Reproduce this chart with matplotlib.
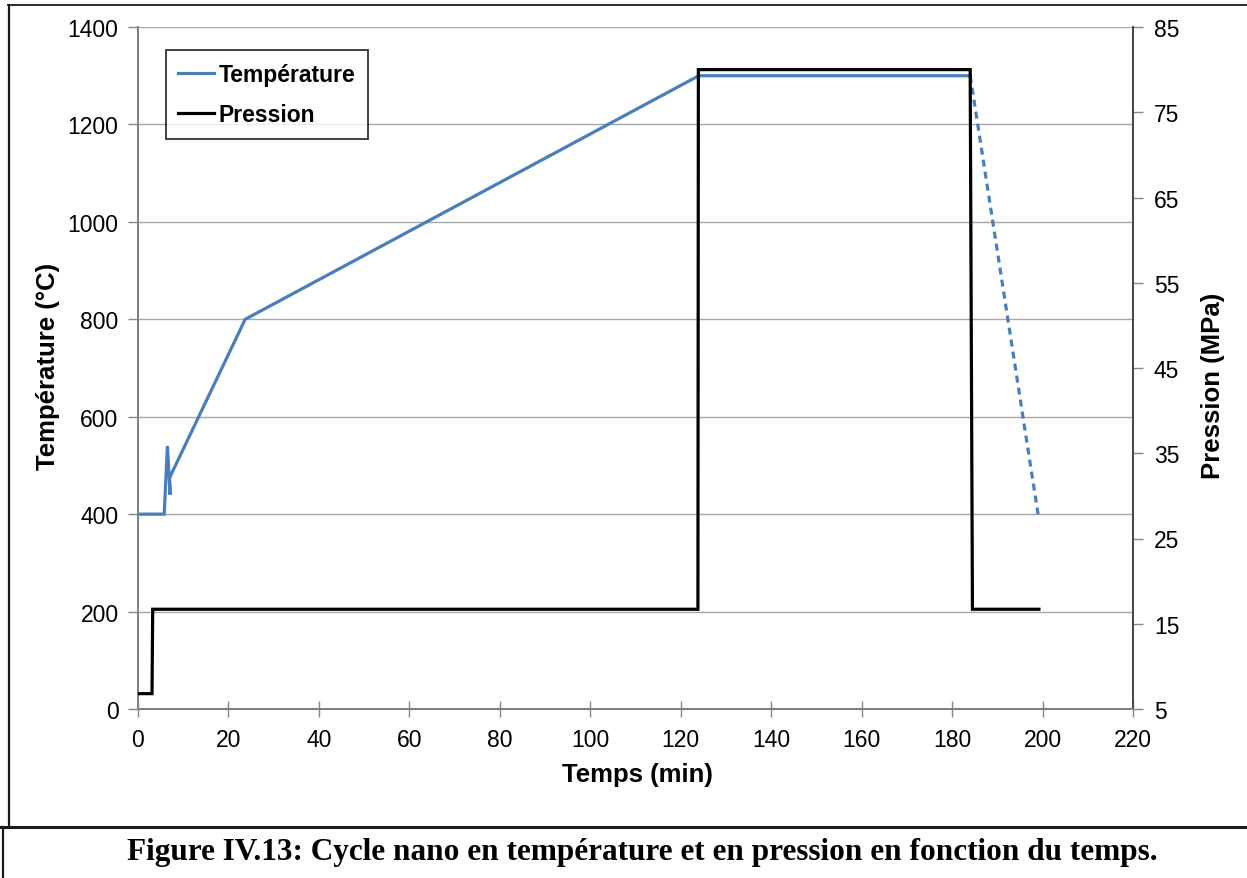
import matplotlib
matplotlib.use("Agg")
import matplotlib.pyplot as plt
from matplotlib.lines import Line2D

plt.rcParams['font.family'] = ['Liberation Sans', 'DejaVu Sans']

# Temperature cycle (°C) vs time (min)
temp_time = [0, 5.8, 6.5, 7.1, 7.0, 23.7, 124, 184]
temp_vals = [400, 400, 540, 440, 475, 800, 1300, 1300]
# Cooling segment (shown dashed)
cool_time = [184, 199]
cool_vals = [1300, 400]

# Pressure cycle (MPa) vs time (min)
pres_time = [0, 3.1, 3.25, 123.8, 123.9, 184.0, 184.5, 199.2]
pres_vals = [6.8, 6.8, 16.7, 16.7, 80, 80, 16.7, 16.7]

x_ticks = list(range(0, 221, 20))
temp_ticks = list(range(0, 1401, 200))
pres_ticks = list(range(5, 86, 10))

W, H = 1247, 879
fig = plt.figure(figsize=(W / 100, H / 100), dpi=100)

ax = fig.add_axes([138 / W, 1 - 710 / H, 995 / W, 682 / H])
ax2 = ax.twinx()

blue = '#4A7EBB'
grid_c = '#A6A6A6'
spine_c = '#868686'

ax.plot(temp_time, temp_vals, color=blue, lw=2.3, solid_joinstyle='miter', zorder=3)
ax.plot(cool_time, cool_vals, color=blue, lw=2.3, ls=(0, (2.2, 1.6)), zorder=3)
ax2.plot(pres_time, pres_vals, color='black', lw=2.3, solid_joinstyle='miter', zorder=3)

ax.set_xlim(0, 220)
ax.set_ylim(0, 1400)
ax2.set_ylim(5, 85)
ax.set_xticks(x_ticks)
ax.set_yticks(temp_ticks)
ax2.set_yticks(pres_ticks)

ax.yaxis.grid(True, color=grid_c, lw=1.0)
ax.set_axisbelow(True)

for a in (ax, ax2):
    for s in a.spines.values():
        s.set_color(spine_c)
        s.set_linewidth(1.3)
    a.spines['top'].set_visible(False)
ax.spines['left'].set_color('#404040')
ax.spines['bottom'].set_color('#404040')
ax2.spines['right'].set_color('#404040')

ax.tick_params(axis='y', direction='out', length=7, width=1.0, color=spine_c,
               labelsize=16.5, pad=7)
ax.tick_params(axis='x', direction='inout', length=12, width=1.0, color=spine_c,
               labelsize=16.5, pad=8)
ax2.tick_params(axis='y', direction='out', length=7, width=1.0, color=spine_c,
                labelsize=16.5, pad=8)

ax.set_xlabel('Temps (min)', fontsize=18.5, fontweight='bold')
ax.set_ylabel('Température (°C)', fontsize=18.5, fontweight='bold')
ax2.set_ylabel('Pression (MPa)', fontsize=18.5, fontweight='bold')
ax.xaxis.set_label_coords((637 - 138) / 995, -(775 - 710) / 682)
ax.yaxis.set_label_coords(-(138 - 48) / 995, (710 - 366) / 682)
ax2.yaxis.set_label_coords(1 + (1213 - 1133) / 995, (710 - 386) / 682)
ax.xaxis.label.set_va('center')
ax.yaxis.label.set_va('center')
ax2.yaxis.label.set_va('center')

handles = [Line2D([], [], color=blue, lw=2.3), Line2D([], [], color='black', lw=2.3)]
leg = ax2.legend(handles, ['Température', 'Pression'], loc='upper left',
                 bbox_to_anchor=(0.028, 0.966), prop={'size': 16.5, 'weight': 'bold'},
                 frameon=True, fancybox=False, handlelength=1.55, handletextpad=0.2,
                 borderpad=0.55, labelspacing=0.75, borderaxespad=0)
leg.get_frame().set_edgecolor('black')
leg.get_frame().set_linewidth(1.3)

# Page frame and caption box
def fline(x0, y0, x1, y1, lw):
    fig.add_artist(Line2D([x0 / W, x1 / W], [1 - y0 / H, 1 - y1 / H],
                          color='#1a1a1a', lw=lw, transform=fig.transFigure))

fline(8, 6, W, 6, 1.3)
fline(9, 6, 9, 828, 1.6)
fline(0, 828, W, 828, 2.2)
fline(3, 828, 3, H, 1.6)

fig.text(642 / W, 1 - 853 / H,
         'Figure IV.13: Cycle nano en température et en pression en fonction du temps.',
         ha='center', va='center', fontsize=22.5, fontweight='bold',
         family=['Liberation Serif', 'DejaVu Serif'])

fig.savefig('out.png', dpi=100)
